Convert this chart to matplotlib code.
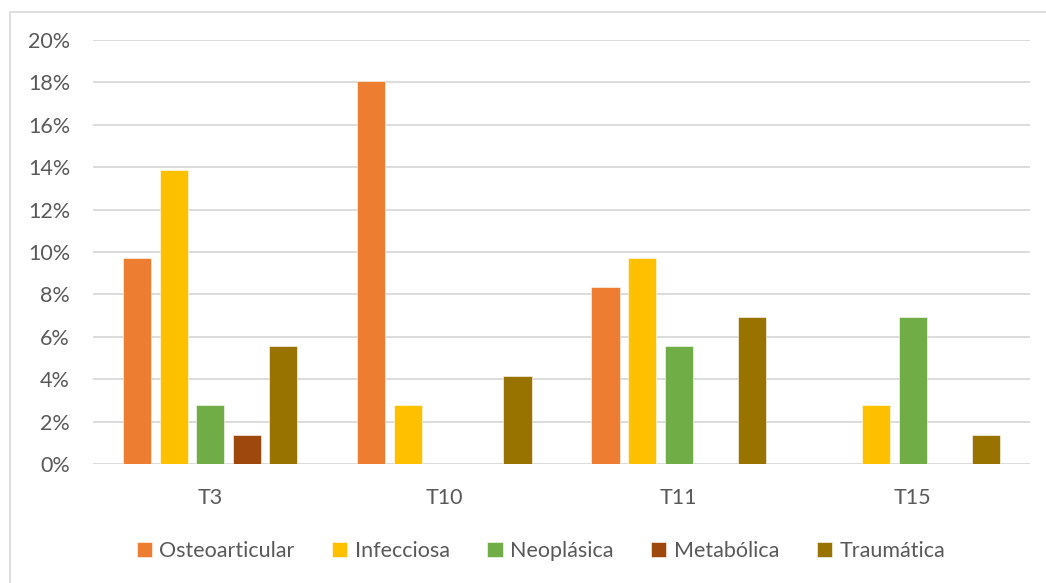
import matplotlib.pyplot as plt
import matplotlib.patches as mpatches
import numpy as np
from matplotlib.ticker import PercentFormatter

plt.rcParams['font.family'] = ['Lato', 'DejaVu Sans']

# data (share of cases per segment, n = 72)
segments = ['T3', 'T10', 'T11', 'T15']
series_names = ['Osteoarticular', 'Infecciosa', 'Neoplásica', 'Metabólica', 'Traumática']
osteoarticular = [0.0972, 0.1806, 0.0833, 0.0]
infecciosa = [0.1389, 0.0278, 0.0972, 0.0278]
neoplasica = [0.0278, 0.0, 0.0556, 0.0694]
metabolica = [0.0139, 0.0, 0.0, 0.0]
traumatica = [0.0556, 0.0417, 0.0694, 0.0139]
y_ticks = [0.0, 0.02, 0.04, 0.06, 0.08, 0.10, 0.12, 0.14, 0.16, 0.18, 0.20]

colors = ['#ED7D31', '#FFC000', '#70AD47', '#9E480E', '#997300']
text_color = '#595959'
fs = 15.5

fig = plt.figure(figsize=(10.46, 5.83), dpi=100)
fig.add_artist(mpatches.Rectangle((10 / 1046, -0.1), 1.2, 1.1 - 12 / 583,
                                  transform=fig.transFigure, fill=False,
                                  edgecolor='#D9D9D9', linewidth=1.2))
ax = fig.add_axes([93 / 1046, 1 - 464 / 583, (1030 - 93) / 1046, (464 - 40) / 583])

x = np.arange(len(segments))
pitch = 0.156
width = 0.12
all_series = [osteoarticular, infecciosa, neoplasica, metabolica, traumatica]
for i, (name, vals) in enumerate(zip(series_names, all_series)):
    ax.bar(x + (i - 2) * pitch, vals, width=width, color=colors[i], label=name,
           edgecolor='white', linewidth=0.4, zorder=3)

ax.set_xlim(-0.5, len(segments) - 0.5)
ax.set_ylim(0, 0.20)
ax.set_yticks(y_ticks)
ax.yaxis.set_major_formatter(PercentFormatter(1.0, decimals=0))
ax.set_xticks(x)
ax.set_xticklabels(segments)
ax.grid(axis='y', color='#D9D9D9', linewidth=1.3, zorder=0)
for s in ax.spines.values():
    s.set_visible(False)
ax.tick_params(axis='both', length=0, colors=text_color, labelsize=fs)
ax.tick_params(axis='y', pad=16.5)
ax.tick_params(axis='x', pad=17)

ax.legend(loc='center', bbox_to_anchor=(0.478, -0.205), ncol=5, frameon=False,
          fontsize=fs, labelcolor=text_color, handlelength=0.7, handleheight=0.7,
          handletextpad=0.35, columnspacing=1.75)

fig.savefig('out.png', dpi=100)
